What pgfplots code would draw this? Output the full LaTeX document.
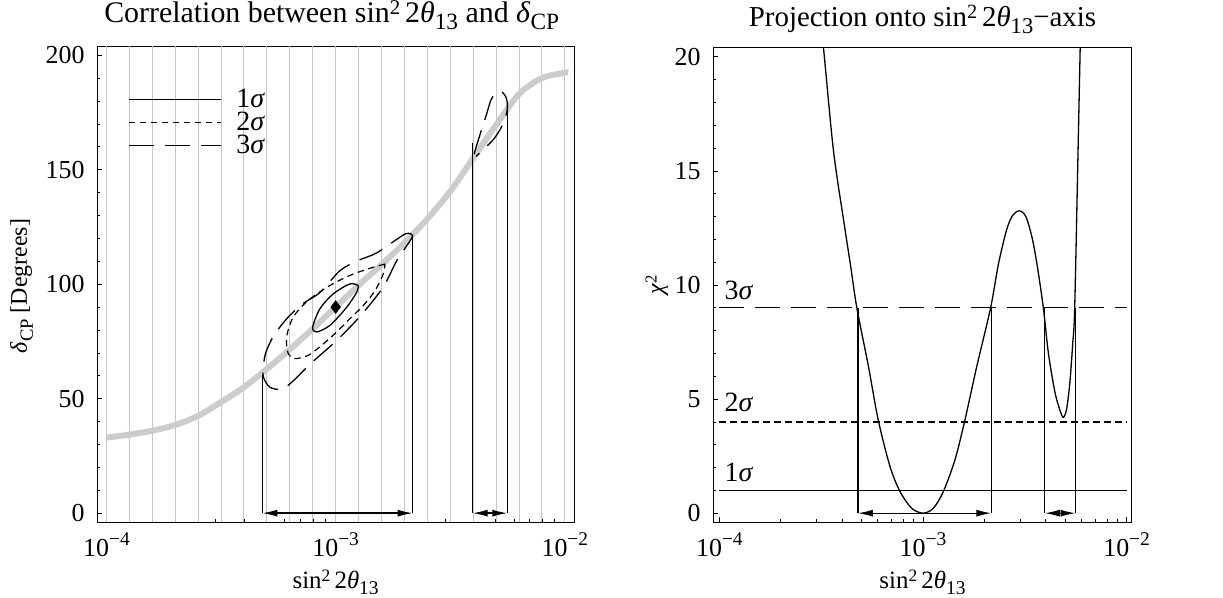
\documentclass[border=0pt]{standalone}
\usepackage{fontspec}
\setmainfont{Liberation Serif}
\usepackage{pgfplots}
\pgfplotsset{compat=1.18}
\usetikzlibrary{arrows.meta}

\newcommand{\titlefont}{\fontsize{29}{33}\selectfont}
\newcommand{\tickfont}{\fontsize{26}{30}\selectfont}
\newcommand{\xlabfont}{\fontsize{25}{29}\selectfont}
\newcommand{\ylabfont}{\fontsize{24}{28}\selectfont}
\newcommand{\sigfont}{\fontsize{28}{32}\selectfont}
\newcommand{\sups}[1]{\raisebox{0.27em}{\scalebox{0.7}{#1}}}
\newcommand{\subs}[1]{\raisebox{-0.25em}{\scalebox{0.78}{#1}}}
\newcommand{\tsup}[1]{\raisebox{0.42em}{\scalebox{0.75}{#1}}}
\newcommand{\sinlabel}{sin\sups{2}\,2\textit{θ}\subs{13}}

\pgfplotsset{
  panel/.style={
    scale only axis,
    /pgf/number format/assume math mode=true,
    tick label style={font=\tickfont},
    xlabel style={font=\xlabfont},
    ylabel style={font=\ylabfont},
    title style={font=\titlefont, at={(axis description cs:0.5,1)}, anchor=base},
    legend style={font=\sigfont},
    tick pos=left,
    xtick={-4,-3,-2},
    xticklabels={10\tsup{−4},10\tsup{−3},10\tsup{−2}},
    minor xtick={-3.69897,-3.52288,-3.39794,-3.30103,-3.22185,-3.15490,-3.09691,-3.04576,
                 -2.69897,-2.52288,-2.39794,-2.30103,-2.22185,-2.15490,-2.09691,-2.04576},
    major tick length=5bp, minor tick length=3bp,
    tick style={black, line width=0.7bp},
    axis line style={line width=1bp},
    xticklabel style={anchor=base, yshift=-34.4bp},
    yticklabel style={xshift=-4bp},
    xlabel=\sinlabel,
    xlabel style={at={(axis description cs:0.5,0)}, anchor=base, yshift=-66bp},
  },
  s1/.style={black, line width=1.3bp},
  s2/.style={black, line width=1.2bp, dash pattern=on 6.5bp off 4.5bp},
  s3/.style={black, line width=1.3bp, dash pattern=on 25bp off 11bp},
  dblarrow/.style={black, line width=1.3bp,
    arrows={Latex[length=15bp,width=7bp]-Latex[length=15bp,width=7bp]}},
}

\begin{document}
\tickfont
\begin{tikzpicture}[font=\tickfont]
\path[use as bounding box] (0bp,0bp) rectangle (1223bp,-598bp);

% left panel: correlation
\begin{axis}[panel,
  at={(97.3bp,-522.3bp)}, anchor=south west,
  width=476.7bp, height=476.3bp,
  xmin=-4.04, xmax=-1.96, ymin=-4, ymax=204,
  ytick={0,50,...,200}, minor y tick num=4,
  extra x ticks={-4,-3.9,...,-2.0}, extra x tick labels={},
  extra x tick style={grid=major, major tick length=0pt,
    major grid style={gray!45, line width=1bp}},
  title={Correlation between \sinlabel\ and \textit{δ}\subs{CP}},
  title style={font=\fontsize{30}{34}\selectfont, yshift=17.8bp, xshift=-4bp},
  ylabel={\textit{δ}\subs{CP} [Degrees]},
  ylabel style={at={(axis description cs:-0.159,0.496)}, anchor=center},
  legend style={at={(axis cs:-3.906,185.5)}, anchor=north west, draw=none, fill=none,
    inner sep=0bp, outer sep=0bp, row sep=0bp,
    nodes={inner sep=0bp, text height=19.5bp, text depth=3.3bp},
    /tikz/every odd column/.append style={column sep=15bp}},
  legend image code/.code={\draw[#1] (0bp,0bp) -- (92bp,0bp);},
]
\addplot[gray!40, line width=6bp, smooth, forget plot] coordinates {
  (-4,33) (-3.9,34.3) (-3.8,36) (-3.7,38.5) (-3.6,42.5) (-3.5,48.5) (-3.4,55)
  (-3.3,63) (-3.2,71.5) (-3.1,80.5) (-3,90) (-2.9,99.5) (-2.8,108.5) (-2.7,118)
  (-2.6,128.5) (-2.5,140.5) (-2.4,155) (-2.3,169.5) (-2.2,183) (-2.1,190)
  (-2,192.3) (-1.985,192.5)};

% 1 sigma
\addplot[s1, smooth] coordinates {
  (-2.901,99.4) (-2.938,100.1) (-3.010,95.8) (-3.069,89.2) (-3.100,81.2)
  (-3.083,79.1) (-3.025,82.0) (-2.952,89.9) (-2.908,96.5) (-2.901,99.4)};
\addlegendentry{1\textit{σ}}

% 2 sigma
\addplot[s2, smooth] coordinates {
  (-2.785,108.8) (-2.858,106.7) (-2.938,103.8) (-3.025,99.4) (-3.120,92.9)
  (-3.185,85.6) (-3.214,76.9) (-3.207,69.7) (-3.178,67.5) (-3.120,68.9)
  (-3.061,73.3) (-2.996,79.1) (-2.938,84.9) (-2.879,90.7) (-2.828,97.2)
  (-2.792,104.5) (-2.785,108.8)};
\addlegendentry{2\textit{σ}}

% 3 sigma, main region
\addplot[s3, smooth] coordinates {
  (-2.664,121.2) (-2.697,121.9) (-2.820,113.7) (-2.903,110.3) (-2.981,105.9)
  (-3.069,96.3) (-3.143,91.5) (-3.208,85.5) (-3.269,77.7) (-3.304,70.3)
  (-3.315,64.6) (-3.315,59.4) (-3.287,55.0) (-3.234,54.1) (-3.187,57.6)
  (-3.108,65.4) (-3.000,75.0) (-2.894,85.9) (-2.794,98.5) (-2.733,110.3)
  (-2.676,118.8) (-2.664,121.2)};
\addlegendentry{3\textit{σ}}

% 3 sigma, second region
\addplot[s3, smooth, forget plot] coordinates {
  (-2.396,156.7) (-2.383,161.2) (-2.365,166.9) (-2.344,173.4) (-2.322,180.5)
  (-2.300,183.5) (-2.274,183.9) (-2.254,180.8) (-2.252,175.6) (-2.274,169.1)
  (-2.309,163.5) (-2.352,159.1) (-2.387,155.8)};

% projections
\addplot[s1, forget plot] coordinates {(-3.320,60.2) (-3.320,0)};
\addplot[s1, forget plot] coordinates {(-2.664,121.2) (-2.664,0)};
\addplot[s1, forget plot] coordinates {(-2.402,161.8) (-2.402,0)};
\addplot[s1, forget plot] coordinates {(-2.251,179.2) (-2.251,0)};
\addplot[dblarrow, forget plot] coordinates {(-3.320,0) (-2.664,0)};
\addplot[dblarrow, forget plot] coordinates {(-2.402,0) (-2.251,0)};

% best fit
\addplot[only marks, mark=diamond*, mark size=6.5bp, black, forget plot]
  coordinates {(-3,90)};
\end{axis}

% right panel: projection
\begin{axis}[panel,
  at={(713.3bp,-522.3bp)}, anchor=south west,
  width=418.4bp, height=474.6bp,
  xmin=-4.03, xmax=-1.975, ymin=-0.4, ymax=20.4,
  ytick={0,5,...,20}, minor y tick num=4,
  title={Projection onto \sinlabel−axis},
  title style={yshift=15.4bp},
  ylabel={\textit{χ}\sups{2}},
  ylabel style={at={(axis description cs:-0.135,0.5)}, anchor=center},
]
\addplot[s1] coordinates {(-4,1) (-2,1)};
\addplot[s2] coordinates {(-4,4) (-2,4)};
\addplot[s3] coordinates {(-4,9) (-2,9)};

\addplot[black, line width=1.3bp, smooth, tension=0.5] coordinates {
  (-3.50,21.0) (-3.489,20.4) (-3.44,15.9) (-3.391,12.9) (-3.355,10.8)
  (-3.325,9.0) (-3.268,6.43) (-3.22,4.09) (-3.162,2.04) (-3.113,0.95)
  (-3.056,0.22) (-3.0,0.0) (-2.949,0.22) (-2.90,0.95) (-2.843,2.34)
  (-2.794,4.09) (-2.736,6.43) (-2.668,9.0) (-2.63,10.9) (-2.59,12.4)
  (-2.56,13.05) (-2.527,13.25) (-2.495,13.0) (-2.465,12.1) (-2.44,10.9)
  (-2.409,9.0) (-2.384,7.0) (-2.352,5.3) (-2.327,4.5) (-2.311,4.2)
  (-2.295,4.55) (-2.279,5.7) (-2.265,7.4) (-2.255,9.0) (-2.238,16.1)
  (-2.228,20.4) (-2.225,21.5)};

\addplot[s1] coordinates {(-3.320,9) (-3.320,0)};
\addplot[s1] coordinates {(-2.664,9) (-2.664,0)};
\addplot[s1] coordinates {(-2.402,9) (-2.402,0)};
\addplot[s1] coordinates {(-2.251,9) (-2.251,0)};
\addplot[dblarrow] coordinates {(-3.320,0) (-2.664,0)};
\addplot[dblarrow] coordinates {(-2.402,0) (-2.251,0)};

\node[font=\sigfont, anchor=base west, inner sep=0pt] at (axis cs:-3.975,9.36) {3\textit{σ}};
\node[font=\sigfont, anchor=base west, inner sep=0pt] at (axis cs:-3.975,4.46) {2\textit{σ}};
\node[font=\sigfont, anchor=base west, inner sep=0pt] at (axis cs:-3.975,1.39) {1\textit{σ}};
\end{axis}
\end{tikzpicture}
\end{document}
